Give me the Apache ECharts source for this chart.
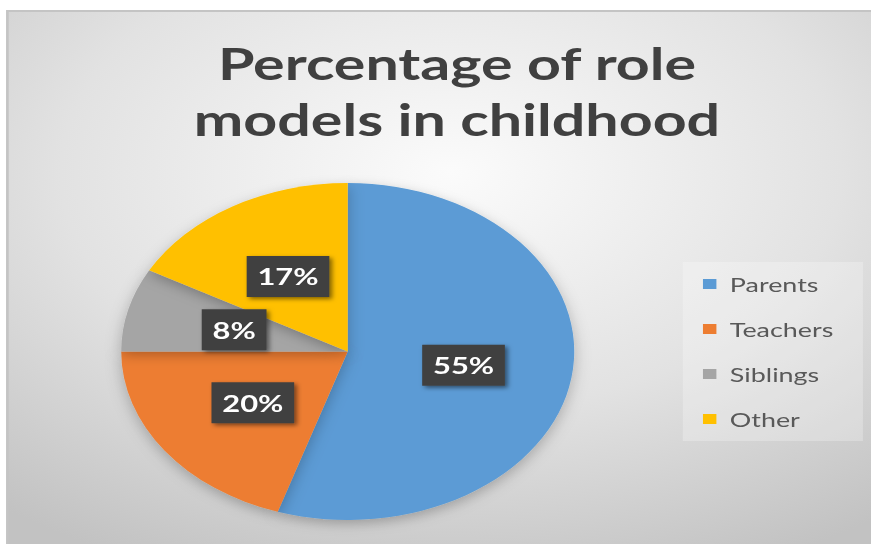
<!DOCTYPE html>
<html>
<head>
<meta charset="utf-8">
<script src="https://cdn.jsdelivr.net/npm/echarts@6/dist/echarts.min.js"></script>
<style>
html,body{margin:0;padding:0;background:#ffffff;overflow:hidden;}
#wrap{width:871px;height:544px;overflow:hidden;position:relative;}
#chart{width:648px;height:544px;transform:scaleX(1.3441);transform-origin:0 0;position:absolute;left:0;top:0;}
</style>
</head>
<body>
<div id="wrap"><div id="chart"></div></div>
<script>
const titleText = 'Percentage of role\nmodels in childhood';
const categories = ['Parents', 'Teachers', 'Siblings', 'Other'];
const values = [55, 20, 8, 17];
const colors = ['#5B9BD5', '#ED7D31', '#A5A5A5', '#FFC000'];

const chart = echarts.init(document.getElementById('chart'), null, {renderer: 'svg'});
const option = {
  animation: false,
  graphic: [{
    type: 'rect',
    z: -10,
    silent: true,
    shape: {x: 5.5, y: 11, width: 660, height: 540},
    style: {
      fill: {
        type: 'radial', x: 0.5, y: 0.3, r: 0.8,
        colorStops: [{offset: 0, color: '#fbfbfb'}, {offset: 0.55, color: '#e2e2e2'}, {offset: 1, color: '#c2c2c2'}]
      },
      stroke: '#c4c4c4', lineWidth: 2
    }
  }],
  title: {
    text: titleText,
    left: 335,
    textAlign: 'center',
    top: 30,
    textStyle: {fontFamily: 'Lato', fontWeight: 'bold', fontSize: 44, lineHeight: 56, color: '#404040'}
  },
  legend: {
    orient: 'vertical',
    left: 508,
    top: 262,
    padding: [12, 22, 12, 15],
    backgroundColor: 'rgba(255,255,255,0.25)',
    itemWidth: 10,
    itemHeight: 10,
    itemGap: 25,
    icon: 'rect',
    data: categories,
    textStyle: {fontFamily: 'Lato', fontSize: 20, lineHeight: 20, color: '#595959', padding: [0, 0, 0, 5]}
  },
  series: [{
    type: 'pie',
    center: [258.7, 351.5],
    radius: [0, 168.5],
    startAngle: 90,
    clockwise: true,
    color: colors,
    itemStyle: {borderWidth: 0, shadowBlur: 12, shadowColor: 'rgba(0,0,0,0.25)', shadowOffsetY: 4},
    label: {
      position: 'inside',
      formatter: '{c}%',
      fontFamily: 'Lato',
      fontWeight: 'bold',
      fontSize: 23,
      color: '#ffffff',
      backgroundColor: '#404040',
      padding: [9, 8, 9, 8],
      shadowBlur: 4,
      shadowColor: 'rgba(0,0,0,0.5)',
      shadowOffsetX: 2,
      shadowOffsetY: 2
    },
    labelLine: {show: false},
    data: categories.map((c, i) => ({name: c, value: values[i]}))
  }]
};
chart.setOption(option);
</script>
</body>
</html>
